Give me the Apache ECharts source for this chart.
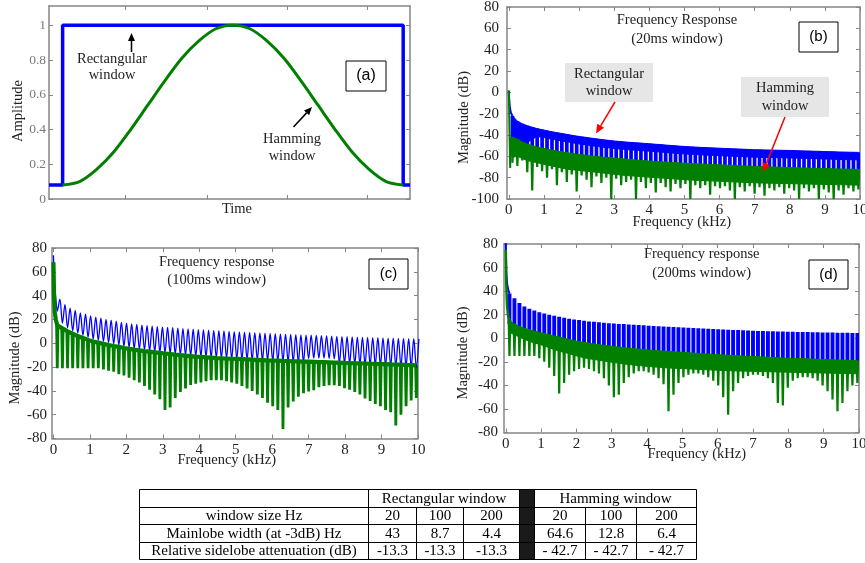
<!DOCTYPE html>
<html>
<head>
<meta charset="utf-8">
<script src="https://cdn.jsdelivr.net/npm/echarts@6.0.0/dist/echarts.min.js"></script>
<style>
html,body{margin:0;padding:0;background:#ffffff;}
#chart{width:865px;height:563px;}
</style>
</head>
<body>
<div id="chart"></div>
<script>
// ================= (a) time-domain windows =================
const ampTicks = [0, 0.2, 0.4, 0.6, 0.8, 1];
const timeTickPos = [0.183, 0.424, 0.659, 0.894];
const rectTime = [-0.04, 0, 0, 1, 1, 1.02];
const rectAmp  = [0.08, 0.08, 1, 1, 0.08, 0.08];
const hamTime = [0, 0.05, 0.1, 0.15, 0.2, 0.25, 0.3, 0.35, 0.4, 0.45, 0.5, 0.55, 0.6, 0.65, 0.7, 0.75, 0.8, 0.85, 0.9, 0.95, 1];
const hamAmp  = [0.08, 0.10, 0.17, 0.27, 0.40, 0.54, 0.68, 0.81, 0.91, 0.98, 1.00, 0.98, 0.91, 0.81, 0.68, 0.54, 0.40, 0.27, 0.17, 0.10, 0.08];

// ================= spectra (b), (c), (d) =================
const freqTicks = [0, 1, 2, 3, 4, 5, 6, 7, 8, 9, 10];
const dbTicksB  = [-100, -80, -60, -40, -20, 0, 20, 40, 60, 80];
const dbTicksCD = [-80, -60, -40, -20, 0, 20, 40, 60, 80];
// lobe grid (kHz): lobe k sits at specStart + k*specStep
const specStart = 0.105, specStep = 0.1407;

// (b) 20 ms window
const bBlueHead = [[0, 1], [0.012, -6], [0.03, -14], [0.06, -19], [0.105, -22]];
const bBlueTop = [-22,-27,-29.5,-31.3,-32.7,-34,-35,-36,-37,-37.8,
  -38.6,-39.4,-40.2,-41,-41.7,-42.3,-43,-43.6,-44.2,-44.8,
  -45.3,-45.8,-46.2,-46.6,-47,-47.3,-47.6,-48,-48.3,-48.7,
  -49,-49.4,-49.8,-50.1,-50.5,-50.8,-51.1,-51.3,-51.6,-51.8,
  -52,-52.2,-52.4,-52.6,-52.8,-53,-53.2,-53.4,-53.6,-53.8,
  -53.9,-54,-54.1,-54.2,-54.3,-54.4,-54.5,-54.6,-54.8,-54.9,
  -55,-55.2,-55.3,-55.5,-55.6,-55.7,-55.9,-56,-56.1,-56.2,-56.3];
const bBlueBand = [-44,-46,-48,-47,-44,-41.5,-42,-43,-44,-44.8,
  -45.6,-46.4,-47.2,-48,-48.7,-49.3,-50,-50.6,-51.2,-51.8,
  -52.3,-52.8,-53.2,-53.6,-54,-54.3,-54.6,-55,-55.3,-55.7,
  -56,-56.4,-56.8,-57.1,-57.5,-57.8,-58.1,-58.3,-58.6,-58.8,
  -59,-59.2,-59.4,-59.6,-59.8,-60,-60.2,-60.4,-60.6,-60.8,
  -60.9,-61,-61.1,-61.2,-61.3,-61.4,-61.5,-61.6,-61.8,-61.9,
  -62,-62.2,-62.3,-62.5,-62.6,-62.7,-62.9,-63,-63.1,-63.2,-63.3];
const bBlueLow = [-44,-46,-49,-51,-53,-54,-55.5,-56,-57,-58,
  -58.5,-59.5,-60,-61,-61.5,-62,-62.5,-63,-63.5,-64,
  -64.5,-65,-65,-65.5,-66,-66.5,-67,-67,-67.5,-68,
  -68,-68.5,-69,-69,-69.5,-69.5,-70,-70,-70.5,-70.5,
  -71,-71,-71.5,-71.5,-72,-72,-72,-72.5,-72.5,-73,
  -73,-73,-73.5,-73.5,-73.5,-74,-74,-74,-74.5,-74.5,
  -74.5,-75,-75,-75,-75.5,-75.5,-75.5,-76,-76,-76,-76];
const bGreenHead = [[0, 2], [0.012, -18], [0.025, -45], [0.04, -71], [0.055, -50], [0.08, -43], [0.105, -42]];
const bGreenTop = [-42,-44,-46.5,-48.5,-50,-51.2,-52.2,-53.2,-54.2,-55,
  -55.8,-56.5,-57.2,-58,-58.5,-59,-59.6,-60.1,-60.6,-61,
  -61.4,-61.8,-62.2,-62.6,-63,-63.4,-63.8,-64.2,-64.5,-64.8,
  -65.1,-65.4,-65.7,-66,-66.2,-66.5,-66.7,-67,-67.2,-67.4,
  -67.6,-67.8,-68,-68.2,-68.4,-68.6,-68.8,-69,-69.2,-69.4,
  -69.5,-69.7,-69.9,-70,-70.2,-70.3,-70.5,-70.6,-70.8,-70.9,
  -71,-71.2,-71.3,-71.4,-71.5,-71.7,-71.8,-71.9,-72,-72.1,-72.2];
const bGreenBand = [-61,-60,-62,-64,-65,-66,-67,-68,-69,-70,
  -71,-72,-72.5,-73,-73.5,-74,-74.5,-75,-75.5,-76,
  -76.5,-77,-77.5,-78,-78.3,-78.6,-79,-79.3,-79.6,-80,
  -80.3,-80.6,-81,-81.3,-81.6,-82,-82.2,-82.4,-82.6,-82.8,
  -83,-83.2,-83.4,-83.6,-83.8,-84,-84.2,-84.4,-84.6,-84.8,
  -85,-85.1,-85.2,-85.3,-85.4,-85.5,-85.6,-85.7,-85.8,-85.9,
  -86,-86.1,-86.2,-86.3,-86.4,-86.5,-86.6,-86.7,-86.8,-86.9,-87];
const bGreenLow = [-66,-69,-64,-75,-92,-70,-74,-80,-72,-87,
  -75,-84,-77,-93,-78,-82,-89,-79,-85,-80,
  -100,-81,-87,-84,-82,-100,-84,-90,-85,-94,
  -85,-89,-93,-86,-90,-86,-100,-87,-90,-87,
  -96,-88,-90,-88,-92,-100,-89,-93,-88,-95,
  -89,-97,-90,-92,-89,-95,-90,-92,-100,-90,
  -93,-90,-100,-91,-94,-100,-92,-96,-90,-93,-91];

// (c) 100 ms window
const cBlueHead = [[0, 74], [0.02, 55], [0.045, 45], [0.075, 34]];
const cBlueNull = [27,17,13,10.5,8.5,6.5,5,3.5,2.5,1.5,
  0.5,-0.5,-1.5,-2.5,-3.5,-4.5,-5,-5.5,-6.5,-7,
  -7.5,-8,-8.5,-9,-9.5,-10,-10.5,-11,-11,-11.5,
  -12,-12,-12.5,-12.5,-13,-13,-13.5,-13.5,-14,-14,
  -14.5,-14.5,-15,-15,-15,-15.5,-15.5,-16,-16,-13,
  -12.5,-12.5,-12.5,-12.8,-13,-16.5,-17,-17,-17.5,-17.5,
  -18,-18,-18,-18.5,-18.5,-19,-19,-19.5,-19.5,-20,-20];
const cBluePeak = [37,32.5,29.5,27.5,25.5,24.5,23,22,21,20,
  19.5,18.5,17.5,16.8,16.2,15.8,15.2,14.8,14.3,14,
  13.6,13.3,13,12.6,12.3,12,11.8,11.5,11.2,11,
  10.8,10.5,10.3,10,9.8,9.6,9.3,9.1,8.9,8.7,
  8.5,8.3,8.1,7.9,7.7,7.5,7.3,7.1,6.9,6.7,
  6.5,6.3,6.2,6,5.8,5.6,5.5,5.3,5.2,5,
  4.9,4.7,4.6,4.5,4.3,4.2,4.1,4,3.9,3.8,3.7];
const cGreenHead = [[0, 68], [0.015, 40], [0.035, 26], [0.065, 20]];
const cGreenTop = [15,12.5,10,8,6,4.5,2.8,1.5,0.5,-0.5,
  -1.5,-2.3,-3,-4,-4.7,-5.4,-6,-6.6,-7.1,-7.6,
  -8.1,-8.6,-9.1,-9.6,-10,-10.4,-10.8,-11.2,-11.5,-11.8,
  -12.1,-12.4,-12.6,-12.8,-13,-13.2,-13.4,-13.6,-13.8,-14,
  -14.2,-14.4,-14.5,-14.6,-14.8,-14.9,-15.1,-15.2,-15.4,-15.5,
  -15.6,-15.8,-15.9,-16,-16.2,-16.3,-16.5,-16.6,-16.8,-16.9,
  -17,-17.2,-17.3,-17.5,-17.6,-17.8,-17.9,-18,-18.2,-18.3,-18.5];
const cGreenLow = [-21,-21,-21,-21,-21,-21,-21,-21,-21,-22,
  -23,-24,-26,-27,-29,-31,-33,-36,-39,-43,
  -47,-56,-54,-46,-41,-38,-35,-34,-33,-32,
  -31,-31,-31,-32,-33,-34,-36,-38,-40,-43,
  -46,-50,-53,-56,-72,-54,-49,-45,-42,-40.5,
  -39.5,-37,-36,-35.3,-35.3,-36,-37.7,-39,-41,-43,
  -46.5,-48.5,-51,-53,-56,-58,-69,-60,-53,-48,-46];

// (d) 200 ms window
const dBlueHead = [[0, 82], [0.015, 56], [0.04, 46], [0.07, 41], [0.105, 38]];
const dBlueTop = [38,34,30,27,25,23.5,22,21,20,19,
  18.2,17.4,16.6,16,15.4,14.8,14.3,13.9,13.5,13.1,
  12.8,12.5,12.2,12,11.7,11.4,11.2,11,10.7,10.4,
  10.2,10,9.8,9.5,9.3,9.1,8.9,8.7,8.5,8.3,
  8.1,7.9,7.7,7.5,7.3,7.1,6.9,6.7,6.5,6.3,
  6.2,6.1,6,5.9,5.8,5.7,5.6,5.5,5.4,5.3,
  5.2,5.1,5,4.9,4.8,4.8,4.7,4.6,4.6,4.5,4.5];
const dBlueLow = [12,9,7,5.5,4,3,2,1,0,-1,
  -2,-3,-4,-5,-5.5,-6.5,-7,-7.5,-8,-8.5,
  -9,-9.5,-10,-10.5,-11,-11.5,-11.5,-12,-12.5,-12.5,
  -13,-13,-13.5,-13.5,-14,-14,-14.5,-14.5,-15,-15,
  -15.5,-15.5,-16,-16,-16.5,-16.5,-17,-17,-17,-17.5,
  -17.5,-17.5,-18,-18,-18,-18.5,-18.5,-18.5,-19,-19,
  -19,-19.5,-19.5,-19.5,-20,-20,-20,-20.5,-20.5,-20.5,-21];
const dGreenHead = [[0, 75], [0.015, 45], [0.035, 28], [0.065, 19], [0.105, 15]];
const dGreenTop = [15,12,10,8.5,7.2,6,5,4,3,2,
  1,0,-1,-2,-2.8,-3.5,-4.2,-4.8,-5.4,-6,
  -6.5,-7,-7.5,-8,-8.4,-8.8,-9.2,-9.6,-10,-10.3,
  -10.6,-10.9,-11.2,-11.5,-11.8,-12,-12.3,-12.6,-12.9,-13.2,
  -13.4,-13.7,-14,-14.2,-14.4,-14.7,-14.9,-15.1,-15.3,-15.5,
  -15.7,-15.9,-16.1,-16.3,-16.5,-16.7,-16.9,-17,-17.2,-17.4,
  -17.5,-17.7,-17.8,-18,-18.1,-18.3,-18.4,-18.5,-18.7,-18.8,-19];
const dGreenBand = [5,3,1,-1,-2.5,-4,-5,-6.5,-8,-9.5,
  -11,-12,-13,-14.5,-15.5,-16.5,-17.3,-18,-18.7,-19.4,
  -20,-20.6,-21.2,-21.8,-22.3,-22.8,-23.2,-23.6,-24,-24.3,
  -24.6,-24.9,-25.2,-25.4,-25.6,-25.8,-26,-26.2,-26.4,-26.6,
  -26.8,-27,-27.2,-27.4,-27.5,-27.6,-27.8,-27.9,-28,-28.1,
  -28.2,-28.3,-28.4,-28.5,-28.6,-28.7,-28.8,-28.9,-29,-29.1,
  -29.2,-29.3,-29.4,-29.5,-29.6,-29.7,-29.8,-29.9,-30,-30.1,-30.2];
const dGreenLow = [-15,-15,-15,-15,-15,-15,-17,-20,-25,-32,
  -47,-38,-31,-28,-26,-25,-26,-28,-30,-34,
  -40,-50,-48,-38,-33,-30,-28,-28,-29,-31,
  -34,-39,-62,-48,-38,-33,-31,-30,-30,-31,
  -33,-36,-40,-50,-65,-45,-38,-34,-32,-31,
  -31,-32,-34,-38,-55,-57,-42,-36,-34,-33,
  -33,-34,-36,-40,-45,-52,-62,-55,-45,-40,-38];

// ================= table =================
const tableGroups = ['Rectangular window', 'Hamming window'];
const tableRowLabels = ['window size Hz', 'Mainlobe width (at -3dB) Hz', 'Relative sidelobe attenuation (dB)'];
const rectCells = [['20', '100', '200'], ['43', '8.7', '4.4'], ['-13.3', '-13.3', '-13.3']];
const hamCells  = [['20', '100', '200'], ['64.6', '12.8', '6.4'], ['- 42.7', '- 42.7', '- 42.7']];

// ================= styling / layout =================
const BLUE = '#0000ff', GREEN = '#007f00', FRAME = '#858585';
const SERIF = '"Liberation Serif","Times New Roman",Times,serif';
const SANS = '"Liberation Sans",Arial,Helvetica,sans-serif';
const grids = [
  {left: 49,  top: 6,   width: 361, height: 193},
  {left: 507, top: 7,   width: 353, height: 192},
  {left: 52,  top: 248, width: 366, height: 190.5},
  {left: 504, top: 244, width: 355, height: 188.5}
].map(g => Object.assign(g, {containLabel: false, outerBoundsMode: 'none'}));
const xs = k => specStart + specStep * k;

function makeAxes(gi, xr, xTicks, showXLabels, yr, yTicks, labColor, labSize, xMargin, yMargin) {
  const line = {show: true, onZero: false, lineStyle: {color: FRAME, width: 1.5}};
  const tick = v => ({show: true, inside: true, length: 4, customValues: v, lineStyle: {color: FRAME, width: 1}});
  const lab = (v, m, show) => ({show: show, customValues: v, margin: m, color: labColor, fontSize: labSize, fontFamily: SERIF});
  return {
    x: [
      {type: 'value', gridIndex: gi, min: xr[0], max: xr[1], position: 'bottom', axisLine: line, axisTick: tick(xTicks), axisLabel: lab(xTicks, xMargin, showXLabels), splitLine: {show: false}},
      {type: 'value', gridIndex: gi, min: xr[0], max: xr[1], position: 'top', axisLine: line, axisTick: tick(xTicks), axisLabel: {show: false}, splitLine: {show: false}}
    ],
    y: [
      {type: 'value', gridIndex: gi, min: yr[0], max: yr[1], position: 'left', axisLine: line, axisTick: tick(yTicks), axisLabel: lab(yTicks, yMargin, true), splitLine: {show: false}},
      {type: 'value', gridIndex: gi, min: yr[0], max: yr[1], position: 'right', axisLine: line, axisTick: tick(yTicks), axisLabel: {show: false}, splitLine: {show: false}}
    ]
  };
}
const axA = makeAxes(0, [-0.04, 1.02], timeTickPos, false, [0, 1.111], ampTicks, '#7a7a7a', 13.5, 5, 3);
const axB = makeAxes(1, [-0.05, 10], freqTicks, true, [-100, 80], dbTicksB, '#222', 15, 4, 8);
const axC = makeAxes(2, [-0.04, 10], freqTicks, true, [-80, 80], dbTicksCD, '#222', 15, 4, 5);
const axD = makeAxes(3, [-0.05, 10], freqTicks, true, [-80, 80], dbTicksCD, '#222', 15, 4, 6);
const xAxes = [].concat(axA.x, axB.x, axC.x, axD.x);
const yAxes = [].concat(axA.y, axB.y, axC.y, axD.y);
const AX = gi => ({xAxisIndex: gi * 2, yAxisIndex: gi * 2});

function lineSeries(gi, data, color, width, smooth) {
  return Object.assign({type: 'line', data: data, symbol: 'none', smooth: smooth || false, silent: true,
    lineStyle: {color: color, width: width}, itemStyle: {color: color}}, AX(gi));
}
function bandSeries(gi, top, bottom, color) {
  return Object.assign({type: 'custom', silent: true, clip: true, data: [[xs(0), top[0]]], encode: {x: 0, y: 1},
    renderItem: function (params, api) {
      const pts = [];
      for (let k = 0; k < top.length; k++) pts.push(api.coord([xs(k), top[k]]));
      for (let k = bottom.length - 1; k >= 0; k--) pts.push(api.coord([xs(k), bottom[k]]));
      return {type: 'polygon', shape: {points: pts}, style: {fill: color, stroke: color, lineWidth: 1}};
    }}, AX(gi));
}
function combSeries(gi, top, low, color, w) {
  return Object.assign({type: 'custom', silent: true, clip: true, encode: {x: 0, y: [1, 2]},
    data: top.map((v, k) => [xs(k), v, low[k]]),
    renderItem: function (params, api) {
      const a = api.coord([api.value(0), api.value(1)]);
      const b = api.coord([api.value(0), api.value(2)]);
      return {type: 'rect', shape: {x: a[0] - w / 2, y: a[1], width: w, height: b[1] - a[1]}, style: {fill: color}};
    }}, AX(gi));
}
function spikeSeries(gi, top, low, color, hw, tw) {
  return Object.assign({type: 'custom', silent: true, clip: true, encode: {x: 0, y: [1, 2]},
    data: top.map((v, k) => [xs(k), v, low[k]]),
    renderItem: function (params, api) {
      const a = api.coord([api.value(0), api.value(1)]);
      const b = api.coord([api.value(0), api.value(2)]);
      return {type: 'polygon', shape: {points: [[a[0] - hw, a[1]], [a[0] + hw, a[1]], [b[0] + tw, b[1]], [b[0] - tw, b[1]]]},
        style: {fill: color}};
    }}, AX(gi));
}

// ---- build series data ----
const rectData = rectTime.map((t, i) => [t, rectAmp[i]]);
const hamData = hamTime.map((t, i) => [t, hamAmp[i]]);
const cBlueData = cBlueHead.slice();
cBlueNull.forEach((v, k) => { cBlueData.push([xs(k), v]); cBlueData.push([xs(k) + specStep / 2, cBluePeak[k]]); });
const cGreenData = cGreenHead.concat(cGreenTop.map((v, k) => [xs(k), v]));

const series = [
  // (a)
  lineSeries(0, rectData, BLUE, 3.5),
  lineSeries(0, hamData, GREEN, 3, 0.3),
  // (b)
  bandSeries(1, bBlueTop, bBlueBand, BLUE),
  combSeries(1, bBlueTop, bBlueLow, BLUE, 3.7),
  lineSeries(1, bBlueHead, BLUE, 2),
  bandSeries(1, bGreenTop, bGreenBand, GREEN),
  spikeSeries(1, bGreenTop, bGreenLow, GREEN, 2.0, 1.1),
  lineSeries(1, bGreenHead, GREEN, 2),
  // (c)
  lineSeries(2, cBlueData, BLUE, 1.3, 0.35),
  spikeSeries(2, cGreenTop, cGreenLow, GREEN, 2.1, 1.4),
  lineSeries(2, cGreenData, GREEN, 4.2),
  // (d)
  combSeries(3, dBlueTop, dBlueLow, BLUE, 3.9),
  lineSeries(3, dBlueHead, BLUE, 2),
  bandSeries(3, dGreenTop, dGreenBand, GREEN),
  spikeSeries(3, dGreenTop, dGreenLow, GREEN, 1.9, 1.1),
  lineSeries(3, dGreenHead, GREEN, 2.5)
];

// ================= annotations (graphic) =================
const G = [];
function txt(x, y, s, size, opts) {
  opts = opts || {};
  G.push({type: 'text', x: x, y: y, rotation: opts.rot || 0, z: 100,
    style: {text: s, font: (size || 14.5) + 'px ' + (opts.font || SERIF), fill: opts.color || '#222',
      align: opts.align || 'center', verticalAlign: 'middle'}});
}
function box(x, y, w, h, fill, stroke) {
  G.push({type: 'rect', z: 99, shape: {x: x, y: y, width: w, height: h},
    style: {fill: fill, stroke: stroke || null, lineWidth: stroke ? 1 : 0}});
}
function arrow(x1, y1, x2, y2, color, lw, hl, hw) {
  const dx = x2 - x1, dy = y2 - y1, L = Math.hypot(dx, dy), ux = dx / L, uy = dy / L;
  const bx = x2 - ux * hl, by = y2 - uy * hl;
  G.push({type: 'line', z: 100, shape: {x1: x1, y1: y1, x2: bx, y2: by}, style: {stroke: color, lineWidth: lw}});
  G.push({type: 'polygon', z: 100, shape: {points: [[x2, y2], [bx - uy * hw, by + ux * hw], [bx + uy * hw, by - ux * hw]]}, style: {fill: color}});
}
// (a)
txt(18.5, 111, 'Amplitude', 14.5, {rot: Math.PI / 2});
txt(237, 209.5, 'Time', 14.5);
arrow(131.5, 52, 131.5, 33, '#000', 1.5, 8, 3.5);
txt(112, 59, 'Rectangular', 14.5);
txt(112, 75.5, 'window', 14.5);
arrow(293.5, 127, 312, 107, '#000', 1.5, 8, 3.5);
txt(292, 139.5, 'Hamming', 14.5);
txt(292, 156.5, 'window', 14.5);
box(346, 61, 40, 30, '#fff', '#000');
txt(366, 76, '(a)', 16, {font: SANS, color: '#000'});
// (b)
txt(677, 20.5, 'Frequency Response', 14.5);
txt(677, 39.5, '(20ms window)', 14.5);
box(799, 22, 39, 30, '#fff', '#000');
txt(818.5, 37, '(b)', 15, {font: SANS, color: '#000'});
box(565, 63, 88, 39, '#e6e6e6');
txt(609, 74, 'Rectangular', 14.5);
txt(609, 91, 'window', 14.5);
box(741, 77, 88, 40, '#e6e6e6');
txt(785, 88.5, 'Hamming', 14.5);
txt(785, 106, 'window', 14.5);
arrow(615, 102, 596, 133.5, '#ff0000', 1.5, 9, 4);
arrow(785, 117, 763, 172, '#ff0000', 1.5, 9, 4);
txt(463.7, 117.5, 'Magnitude (dB)', 14.5, {rot: Math.PI / 2});
txt(681.7, 221.7, 'Frequency (kHz)', 14.5);
// (c)
txt(216.7, 261.7, 'Frequency response', 14.5);
txt(216.7, 280, '(100ms window)', 14.5);
box(369, 259, 39, 30, '#fff', '#000');
txt(388.5, 274, '(c)', 15, {font: SANS, color: '#000'});
txt(15.3, 358, 'Magnitude (dB)', 14.5, {rot: Math.PI / 2});
txt(226.7, 460, 'Frequency (kHz)', 14.5);
// (d)
txt(701.7, 254.3, 'Frequency response', 14.5);
txt(701.7, 272.7, '(200ms window)', 14.5);
box(809, 260, 39, 29, '#fff', '#000');
txt(828.5, 274.5, '(d)', 15, {font: SANS, color: '#000'});
txt(463.3, 353, 'Magnitude (dB)', 14.5, {rot: Math.PI / 2});
txt(696.7, 454.3, 'Frequency (kHz)', 14.5);

// ---- table ----
const TX = [139.5, 368.5, 416.5, 463.5, 519.5, 534.5, 585.5, 636.5, 696.5];
const TY = [489.5, 507.5, 524.5, 542.5, 559.5];
G.push({type: 'rect', z: 98, shape: {x: TX[4], y: TY[0], width: TX[5] - TX[4], height: TY[4] - TY[0]}, style: {fill: '#1a1a1a'}});
function seg(x1, y1, x2, y2) { G.push({type: 'line', z: 99, shape: {x1: x1, y1: y1, x2: x2, y2: y2}, style: {stroke: '#000', lineWidth: 1}}); }
TY.forEach(y => seg(TX[0], y, TX[8], y));
[0, 1, 4, 5, 8].forEach(i => seg(TX[i], TY[0], TX[i], TY[4]));
[2, 3, 6, 7].forEach(i => seg(TX[i], TY[1], TX[i], TY[4]));
const rowMid = r => (TY[r] + TY[r + 1]) / 2 + 0.5;
txt((TX[1] + TX[4]) / 2, rowMid(0), tableGroups[0], 15, {color: '#000'});
txt((TX[5] + TX[8]) / 2, rowMid(0), tableGroups[1], 15, {color: '#000'});
tableRowLabels.forEach((s, r) => {
  txt((TX[0] + TX[1]) / 2, rowMid(r + 1), s, 15, {color: '#000'});
  rectCells[r].forEach((v, c) => txt((TX[1 + c] + TX[2 + c]) / 2, rowMid(r + 1), v, 15, {color: '#000'}));
  hamCells[r].forEach((v, c) => txt((TX[5 + c] + TX[6 + c]) / 2, rowMid(r + 1), v, 15, {color: '#000'}));
});

const chart = echarts.init(document.getElementById('chart'), null, {renderer: 'canvas'});
chart.setOption({
  animation: false,
  backgroundColor: '#ffffff',
  grid: grids,
  xAxis: xAxes,
  yAxis: yAxes,
  series: series,
  graphic: {elements: G}
});
</script>
</body>
</html>
